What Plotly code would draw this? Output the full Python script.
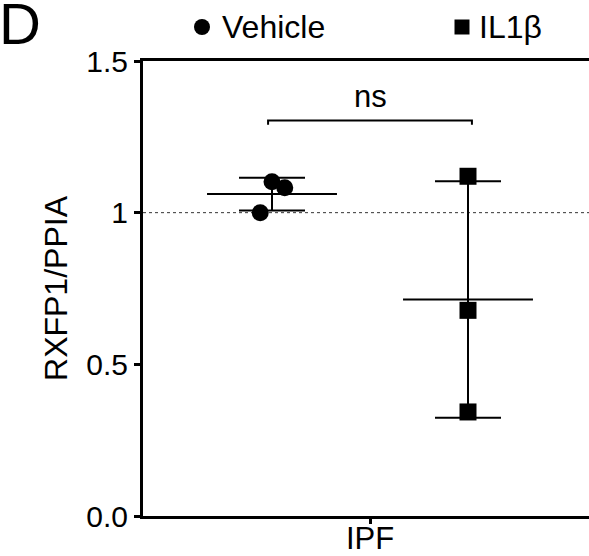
import numpy as np
import plotly.graph_objects as go

# ---- data ----
groups = ["Vehicle", "IL1β"]
category = "IPF"
vehicle_values = [1.00, 1.102, 1.082]
il1b_values = [1.12, 0.678, 0.343]
y_tickvals = [0.0, 0.5, 1.0, 1.5]
y_ticktext = ["0.0", "0.5", "1", "1.5"]
sig_label = "ns"
panel_label = "D"
y_title = "RXFP1/PPIA"

# ---- layout constants ----
W, H = 589, 556
ML, MR, MT, MB = 143, 0, 61, 40
PW, PH = W - ML - MR, H - MT - MB
group_pos = [-1.0, 1.0]
jitter = {0: [-0.12, 0.0, 0.13], 1: [0.0, 0.0, 0.0]}
symbols = ["circle", "square"]
FONT = "Liberation Sans, Arial, Helvetica, sans-serif"
mean_half = 0.663
cap_px = 33
PX = 98  # pixels per x unit


def px_x(p):
    return (p - ML) / PW


def px_y(p):
    return 1 - (p - MT) / PH


fig = go.Figure()
all_vals = [vehicle_values, il1b_values]
for i, (name, vals) in enumerate(zip(groups, all_vals)):
    vals = np.array(vals)
    m = vals.mean()
    sd = vals.std(ddof=1)
    cx = group_pos[i]
    fig.add_trace(go.Scatter(
        x=[cx], y=[m], mode="markers", marker=dict(size=1, opacity=0),
        error_y=dict(type="data", array=[sd], visible=True, color="black",
                     thickness=2, width=cap_px),
        showlegend=False, hoverinfo="skip"))
    fig.add_trace(go.Scatter(
        x=[cx - mean_half, cx + mean_half], y=[m, m], mode="lines",
        line=dict(color="black", width=2), showlegend=False, hoverinfo="skip"))
    fig.add_trace(go.Scatter(
        x=[cx + j for j in jitter[i]], y=vals, mode="markers", name=name,
        marker=dict(symbol=symbols[i], size=17, color="black"),
        showlegend=False))

# reference dotted line at 1
fig.add_shape(type="line", xref="paper", yref="y", x0=0, x1=1, y0=1, y1=1,
              line=dict(color="#333333", width=1, dash="dot"), layer="below")

# significance bracket
by, tick = 1.304, 0.014
fig.add_trace(go.Scatter(
    x=[group_pos[0] - 0.04, group_pos[0] - 0.04, group_pos[1] + 0.04, group_pos[1] + 0.04],
    y=[by - tick, by, by, by - tick], mode="lines",
    line=dict(color="black", width=2), showlegend=False, hoverinfo="skip"))
fig.add_annotation(x=0, y=by, yref="y", xref="x", text=sig_label, showarrow=False,
                   yanchor="bottom", yshift=4, font=dict(size=31, color="black", family=FONT))

# panel label
fig.add_annotation(xref="paper", yref="paper", x=px_x(-3), y=px_y(-11),
                   xanchor="left", yanchor="top", text=panel_label, showarrow=False,
                   font=dict(size=58, color="black", family=FONT))

# legend (drawn manually)
leg_y = 27
leg_items = [(202, 220, "circle"), (462, 477, "square")]
for (sx, tx, sym), name in zip(leg_items, groups):
    shape_type = "circle" if sym == "circle" else "rect"
    s = 8 if sym == "circle" else 7.5
    fig.add_shape(type=shape_type, xref="paper", yref="paper",
                  xsizemode="pixel", ysizemode="pixel",
                  xanchor=px_x(sx), yanchor=px_y(leg_y),
                  x0=-s, x1=s, y0=-s, y1=s,
                  fillcolor="black", line=dict(width=0))
    fig.add_annotation(xref="paper", yref="paper", x=px_x(tx), y=px_y(leg_y),
                       xanchor="left", yanchor="middle", text=name, showarrow=False,
                       font=dict(size=32, color="black", family=FONT))

fig.update_layout(
    width=W, height=H, margin=dict(l=ML, r=MR, t=MT, b=MB, autoexpand=False),
    plot_bgcolor="white", paper_bgcolor="white",
    font=dict(family=FONT, color="black", size=30),
    showlegend=False,
    xaxis=dict(range=[-(370 - ML) / PX, (W - 370) / PX], tickvals=[0], ticktext=[category],
               showline=True, linecolor="black", linewidth=3, mirror=True,
               ticks="outside", ticklen=5, tickwidth=3, tickcolor="black",
               showgrid=False, zeroline=False, tickfont=dict(size=31),
               automargin=False, ticklabelstandoff=-12),
    yaxis=dict(range=[0, 1.5], tickvals=y_tickvals, ticktext=y_ticktext,
               showline=True, linecolor="black", linewidth=3,
               ticks="outside", ticklen=6, tickwidth=3, tickcolor="black",
               showgrid=False, zeroline=False, tickfont=dict(size=30),
               automargin=False,
               title=dict(text=y_title, font=dict(size=32), standoff=10)),
)

fig.write_html("out.html", config={"displayModeBar": False},
               post_script="document.body.style.margin='0';document.body.style.overflow='hidden';")
